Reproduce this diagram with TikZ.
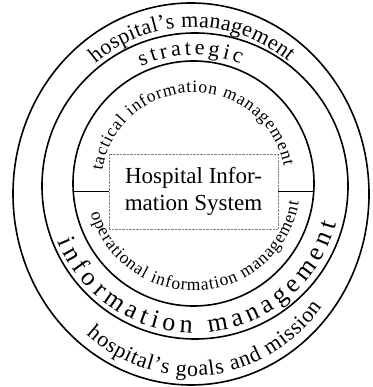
\documentclass[tikz,border=0pt]{standalone}
\usepackage{fontspec}
\setmainfont{Liberation Serif}
\usetikzlibrary{decorations.text}
\newcommand{\ringfont}{\fontsize{22}{26}\selectfont}
\newcommand{\bigringfont}{\fontsize{26}{30}\selectfont}
\newcommand{\innerfont}{\fontsize{17.5}{20}\selectfont}
\tikzset{
  ring/.style={line width=1.6pt},
  arctext/.style={decorate, decoration={text along path, text align=fit to path, text={#1}}}
}

\begin{document}
\begin{tikzpicture}[x=1pt,y=1pt]
\useasboundingbox (0,0) rectangle (372,387);
% rings
\draw[ring] (191,193) ellipse [x radius=178, y radius=191];
\draw[ring] (195,201) circle [radius=153];
\draw[ring] (193.5,203.5) ellipse [x radius=120.5, y radius=122.5];
% core
\node[draw=gray, densely dotted, minimum width=169pt, minimum height=75pt, align=center,
      font=\fontsize{23}{27}\selectfont] (his) at (193.5,195.5) {Hospital Infor-\\mation System};
\coordinate (inL) at (73.3,195.5);
\coordinate (inR) at (313.7,195.5);
\draw[ring] (his.west) -- (inL) (his.east) -- (inR);
% texts on the arcs
\path[arctext={|\ringfont|hospital's management}]
  (193,197) ++(129:155 and 163) arc[start angle=129, end angle=52, x radius=155, y radius=163];
\path[arctext={|\ringfont|hospital's goals and mission}]
  (192,197) ++(231:168 and 186) arc[start angle=231, end angle=321, x radius=168, y radius=186];
\path[arctext={|\ringfont|strategic}]
  (194,202) ++(114:130) arc[start angle=114, end angle=69, radius=130];
\path[arctext={|\bigringfont|information management}]
  (194,201) ++(202:147) arc[start angle=202, end angle=345, radius=147];
\path[arctext={|\innerfont|tactical information management}]
  (193.5,203.5) ++(172:92 and 91) arc[start angle=172, end angle=11, x radius=92, y radius=91];
\path[arctext={|\innerfont|operational information management}]
  (193.5,203.5) ++(196:107) arc[start angle=196, end angle=350, radius=107];
\end{tikzpicture}
\end{document}
